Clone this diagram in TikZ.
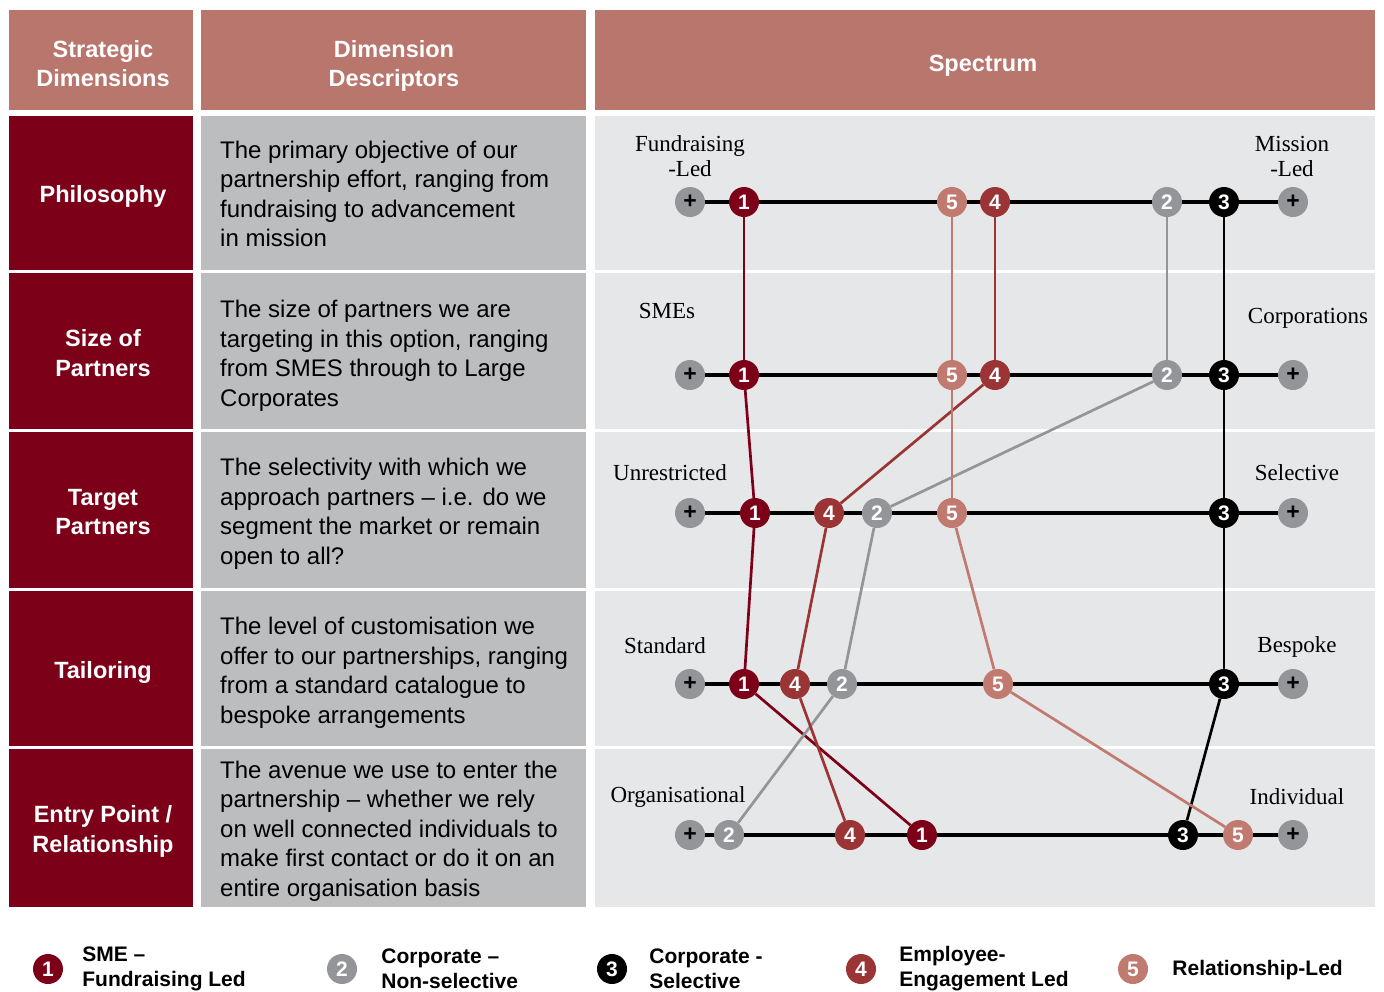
\documentclass[tikz,border=0pt]{standalone}
\usepackage{fontspec}
\setmainfont{Liberation Sans}
\newfontfamily\polefont{Liberation Serif}
\usetikzlibrary{positioning}

\definecolor{headred}{RGB}{184,118,109}
\definecolor{dimred}{RGB}{125,0,25}
\definecolor{descgray}{RGB}{188,189,191}
\definecolor{specgray}{RGB}{230,231,232}
\definecolor{plusgray}{RGB}{147,149,152}
\definecolor{optA}{RGB}{125,0,25}
\definecolor{optB}{RGB}{147,149,152}
\definecolor{optC}{RGB}{0,0,0}
\definecolor{optD}{RGB}{155,53,53}
\definecolor{optE}{RGB}{192,122,112}

\begin{document}
\begin{tikzpicture}[x=1pt,y=-1pt,
  head/.style={font=\fontsize{23.5}{29}\selectfont\bfseries,text=white,align=center},
  dim/.style={font=\fontsize{23.5}{29.5}\selectfont\bfseries,text=white,align=center},
  desc/.style={font=\fontsize{24}{29.5}\selectfont,align=left,anchor=west,inner sep=0pt},
  pole/.style={font=\polefont\fontsize{23}{25}\selectfont,align=center},
  opt/.style={circle,fill=#1,inner sep=0pt,minimum size=30pt,text=white,font=\fontsize{21}{21}\selectfont\bfseries},
  plus/.style={circle,fill=plusgray,inner sep=0pt,minimum size=30pt,font=\fontsize{23}{23}\selectfont\bfseries},
  rail/.style={line width=3.2pt},
  tie/.style={draw=#1,line width=2.7pt},
  legtext/.style={font=\fontsize{21}{25}\selectfont\bfseries,align=left,inner sep=0pt}]
  \useasboundingbox[fill=white] (0,0) rectangle (1384,991);
  % header row
  \fill[headred] (9,10) rectangle (193,110);
  \fill[headred] (201,10) rectangle (586,110);
  \fill[headred] (595,10) rectangle (1375,110);
  \node[head] (hdim) at (103,63.5) {Strategic\\Dimensions};
  \node[head] (hdesc) at (394,65.5) {Dimension\\Descriptors};
  \node[head] (hspec) at (983,65.5) {Spectrum};
  % body cells
  \foreach \t/\b in {116/270,273/429,432/588,591/746,749/907} {
    \fill[dimred] (9,\t) rectangle (193,\b);
    \fill[descgray] (201,\t) rectangle (586,\b);
    \fill[specgray] (595,\t) rectangle (1375,\b);
  }
  % ---- dimensions
  \node[dim] (dim1) at (103,196) {Philosophy};
  \node[dim] (dim2) at (103,353) {Size of\\Partners};
  \node[dim] (dim3) at (103,512) {Target\\Partners};
  \node[dim] (dim4) at (103,672) {Tailoring};
  \node[dim] (dim5) at (103,831.5) {Entry Point /\\Relationship};
  % ---- descriptors
  \node[desc] (desc1) at (220,194) {The primary objective of our\\partnership effort, ranging from\\fundraising to advancement\\in mission};
  \node[desc] (desc2) at (220,356) {The size of partners we are\\targeting in this option, ranging\\from SMES through to Large\\Corporates};
  \node[desc] (desc3) at (220,514) {The selectivity with which we\\approach partners – i.e. do we\\segment the market or remain\\open to all?};
  \node[desc] (desc4) at (220,673) {The level of customisation we\\offer to our partnerships, ranging\\from a standard catalogue to\\bespoke arrangements};
  \node[desc] (desc5) at (220,831) {The avenue we use to enter the\\partnership – whether we rely\\on well connected individuals to\\make first contact or do it on an\\entire organisation basis};
  % ---- spectrum ends
  \node[pole] (lo1) at (690,156) {Fundraising\\-Led};
  \node[pole] (hi1) at (1292,156) {Mission\\-Led};
  \node[pole] (lo2) at (667,311) {SMEs};
  \node[pole] (hi2) at (1308,318.5) {Corporations};
  \node[pole] (lo3) at (670,473) {Unrestricted};
  \node[pole] (hi3) at (1297,473) {Selective};
  \node[pole] (lo4) at (665,646) {Standard};
  \node[pole] (hi4) at (1297,647) {Bespoke};
  \node[pole] (lo5) at (678,797) {Organisational};
  \node[pole] (hi5) at (1297,796.5) {Individual};
  % rails
  \foreach \r/\y in {1/202,2/375,3/513,4/684,5/835} {
    \node[plus] (pl\r) at (690,\y) {+};
    \node[plus] (pr\r) at (1293,\y) {+};
    \draw[rail] (pl\r) -- (pr\r);
  }
  % options on each rail
  \foreach \r/\y/\xa/\xb/\xc/\xd/\xe in {1/202/744/1167/1224/995/952,2/375/744/1167/1224/995/952,
      3/513/755/877/1224/829/952,4/684/744/842/1224/795/998,5/835/922/729/1183/850/1238} {
    \node[opt=optA] (m\r-1) at (\xa,\y) {1};
    \node[opt=optB] (m\r-2) at (\xb,\y) {2};
    \node[opt=optC] (m\r-3) at (\xc,\y) {3};
    \node[opt=optD] (m\r-4) at (\xd,\y) {4};
    \node[opt=optE] (m\r-5) at (\xe,\y) {5};
  }
  % option paths from row to row
  \foreach \k/\col in {1/optA,2/optB,3/optC,4/optD,5/optE} {
    \foreach \r in {1,2,3,4} {
      \pgfmathtruncatemacro{\nxt}{\r+1}
      \draw[tie=\col] (m\r-\k) -- (m\nxt-\k);
    }
  }
  % ---- key
  \foreach \k/\col/\x in {1/optA/48,2/optB/342,3/optC/612,4/optD/861,5/optE/1133}
    \node[opt=\col] (key\k) at (\x,969) {\k};
  \node[legtext,right=19pt of key1] (txt1) {SME –\\Fundraising Led};
  \node[legtext,right=24pt of key2] (txt2) {Corporate –\\Non-selective};
  \node[legtext,right=22pt of key3] (txt3) {Corporate -\\Selective};
  \node[legtext,right=23pt of key4] (txt4) {Employee-\\Engagement Led};
  \node[legtext,right=24pt of key5,yshift=-1.5pt] (txt5) {Relationship-Led};
\end{tikzpicture}
\end{document}
